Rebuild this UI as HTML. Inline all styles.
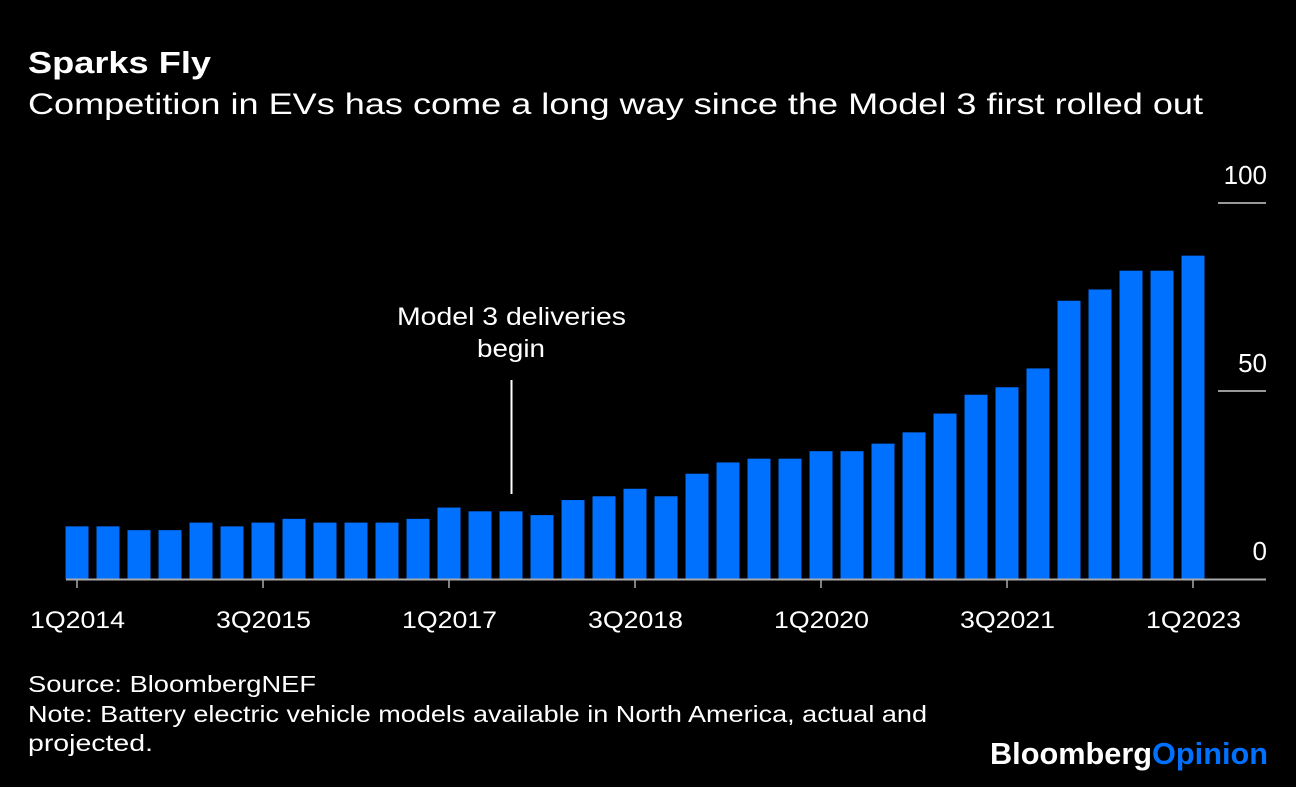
<!DOCTYPE html>
<html><head><meta charset="utf-8"><style>
body{margin:0;background:#000;width:1296px;height:782px;overflow:hidden;font-family:"Liberation Sans",Arial,sans-serif;color:#fff}
</style></head><body>
<svg width="1296" height="782" xmlns="http://www.w3.org/2000/svg" font-family="Liberation Sans, Arial, sans-serif">
<text x="28" y="73" font-size="31" font-weight="bold" fill="#fff" textLength="183" lengthAdjust="spacingAndGlyphs">Sparks Fly</text>
<text x="28" y="114" font-size="30" fill="#fff" textLength="1175" lengthAdjust="spacingAndGlyphs">Competition in EVs has come a long way since the Model 3 first rolled out</text>
<g id="bars"></g>
<g id="axes"></g>
<text x="397" y="325" font-size="25" fill="#fff" textLength="229" lengthAdjust="spacingAndGlyphs">Model 3 deliveries</text>
<text x="477" y="357" font-size="25" fill="#fff" textLength="68" lengthAdjust="spacingAndGlyphs">begin</text>
<line x1="511.5" y1="380" x2="511.5" y2="494" stroke="#fff" stroke-width="2"/>
<text x="28" y="692" font-size="23" fill="#fff" textLength="288" lengthAdjust="spacingAndGlyphs">Source: BloombergNEF</text>
<text x="28" y="722" font-size="23" fill="#fff" textLength="899" lengthAdjust="spacingAndGlyphs">Note: Battery electric vehicle models available in North America, actual and</text>
<text x="28" y="751" font-size="23" fill="#fff" textLength="125" lengthAdjust="spacingAndGlyphs">projected.</text>
<text x="990" y="764" font-size="31" font-weight="bold" textLength="278" lengthAdjust="spacingAndGlyphs"><tspan fill="#fff">Bloomberg</tspan><tspan fill="#0070ff">Opinion</tspan></text>
</svg>
<script>
const categories=["1Q2014","2Q2014","3Q2014","4Q2014","1Q2015","2Q2015","3Q2015","4Q2015","1Q2016","2Q2016","3Q2016","4Q2016","1Q2017","2Q2017","3Q2017","4Q2017","1Q2018","2Q2018","3Q2018","4Q2018","1Q2019","2Q2019","3Q2019","4Q2019","1Q2020","2Q2020","3Q2020","4Q2020","1Q2021","2Q2021","3Q2021","4Q2021","1Q2022","2Q2022","3Q2022","4Q2022","1Q2023"];
const values=[14,14,13,13,15,14,15,16,15,15,15,16,19,18,18,17,21,22,24,22,28,31,32,32,34,34,36,39,44,49,51,56,74,77,82,82,86];
const yTicks=[0,50,100];
const xTickLabels=["1Q2014","3Q2015","1Q2017","3Q2018","1Q2020","3Q2021","1Q2023"];
const NS="http://www.w3.org/2000/svg";
const x0=77,step=31,bw=23,y0=579,ppu=3.76;
const xs=i=>x0+i*step;
const ys=v=>y0-v*ppu;
const bars=document.getElementById('bars'),axes=document.getElementById('axes');
values.forEach((v,i)=>{
 const r=document.createElementNS(NS,'rect');
 r.setAttribute('x',xs(i)-bw/2);r.setAttribute('y',ys(v));
 r.setAttribute('width',bw);r.setAttribute('height',v*ppu);
 r.setAttribute('fill','#0070ff');
 
 
 bars.appendChild(r);
});
const ax=document.createElementNS(NS,'line');
ax.setAttribute('x1',66);ax.setAttribute('x2',1266);ax.setAttribute('y1',y0+0.5);ax.setAttribute('y2',y0+0.5);
ax.setAttribute('stroke','#aaa');ax.setAttribute('stroke-width',2);


axes.appendChild(ax);
yTicks.forEach(t=>{
 if(t>0){const g=document.createElementNS(NS,'line');
 g.setAttribute('x1',1218);g.setAttribute('x2',1266);g.setAttribute('y1',ys(t));g.setAttribute('y2',ys(t));
 g.setAttribute('stroke','#ccc');g.setAttribute('stroke-width',1.5);
 
 
 axes.appendChild(g);}
 const tx=document.createElementNS(NS,'text');
 tx.setAttribute('x',1267);tx.setAttribute('y',ys(t)-19);tx.setAttribute('text-anchor','end');
 tx.setAttribute('font-size',26);tx.setAttribute('fill','#fff');tx.textContent=t;
 
 
 axes.appendChild(tx);
});
xTickLabels.forEach(l=>{
 const i=categories.indexOf(l);
 const tk=document.createElementNS(NS,'line');
 tk.setAttribute('x1',xs(i));tk.setAttribute('x2',xs(i));tk.setAttribute('y1',y0);tk.setAttribute('y2',y0+9);
 tk.setAttribute('stroke','#aaa');tk.setAttribute('stroke-width',1.5);
 
 
 axes.appendChild(tk);
 const tx=document.createElementNS(NS,'text');
 tx.setAttribute('x',xs(i)-47);tx.setAttribute('y',628);
 tx.setAttribute('textLength',95);tx.setAttribute('lengthAdjust','spacingAndGlyphs');
 tx.setAttribute('font-size',24);tx.setAttribute('fill','#fff');tx.textContent=l;
 
 
 axes.appendChild(tx);
});
</script>
</body></html>
